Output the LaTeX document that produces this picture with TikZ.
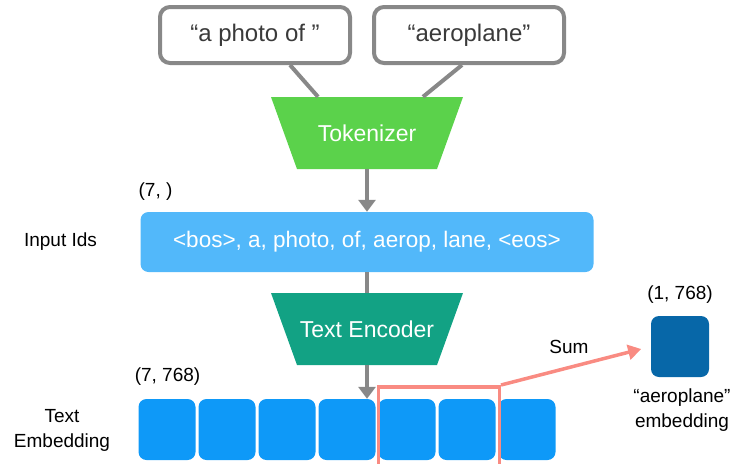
\documentclass[tikz,border=0pt]{standalone}
\usepackage{fontspec}
\setmainfont{Liberation Sans}
\usetikzlibrary{arrows.meta,calc}
\definecolor{linegray}{HTML}{888888}
\definecolor{tokgreen}{HTML}{5BD24B}
\definecolor{idsblue}{HTML}{52B8FA}
\definecolor{encteal}{HTML}{12A284}
\definecolor{embblue}{HTML}{0E99F8}
\definecolor{aggblue}{HTML}{0767A8}
\definecolor{selred}{HTML}{F98B82}
\definecolor{textgray}{HTML}{3A3A3A}
\tikzset{
  promptbox/.style={draw=linegray, line width=4pt, rounded corners=10pt, fill=white,
    minimum width=190pt, minimum height=56pt, inner sep=0pt,
    text=textgray, font=\fontsize{24}{28}\selectfont},
  funnel/.style={minimum width=192pt, minimum height=72pt, inner sep=0pt,
    text=white, font=\fontsize{23}{27}\selectfont,
    path picture={\fill[#1] (path picture bounding box.north west)
      -- (path picture bounding box.north east)
      -- ([xshift=-26pt]path picture bounding box.south east)
      -- ([xshift=26pt]path picture bounding box.south west) -- cycle;}},
  cell/.style={fill=embblue, rounded corners=8pt, minimum width=57pt,
    minimum height=61pt, inner sep=0pt},
  lbl/.style={font=\fontsize{19}{23}\selectfont, text=black, align=center, inner sep=0pt},
  flow/.style={draw=linegray, line width=4pt},
  flowarrow/.style={flow, -{Triangle[width=17pt,length=12pt]}},
}
\begin{document}
\begin{tikzpicture}[x=1pt,y=-1pt]
  \useasboundingbox (0,0) rectangle (730,463);
  % prompt pieces
  \node[promptbox] (p1) at (255,35) {“a photo of ”};
  \node[promptbox] (p2) at (469,35) {“aeroplane”};
  % tokenizer
  \node[funnel=tokgreen] (tok) at (367,133) {Tokenizer};
  \draw[flow] ($(p1.south)+(35,0)$) -- ($(tok.north)+(-49,0)$);
  \draw[flow] ($(p2.south)+(-7,0)$) -- ($(tok.north)+(56,0)$);
  % token ids
  \node[fill=idsblue, rounded corners=8pt, minimum width=453pt, minimum height=60pt,
    inner sep=0pt, text=white, font=\fontsize{22.5}{27}\selectfont] (ids) at (367,242)
    {<bos>, a, photo, of, aerop, lane, <eos>};
  \draw[flowarrow] (tok.south) -- (ids.north);
  \node[lbl] (idshape) at (155.5,192) {(7, )};
  \node[lbl] (idslbl) at (60.5,242) {Input Ids};
  % text encoder
  \node[funnel=encteal] (enc) at (367,329) {Text Encoder};
  \draw[flow] (ids.south) -- (enc.north);
  % embedding cells
  \foreach \i in {1,...,7} {
    \node[cell] (c\i) at ({107+60*\i},429.5) {};
  }
  \draw[flowarrow] (enc.south) -- (enc.south |- c4.north);
  \node[lbl] (embshape) at (167.5,377) {(7, 768)};
  \node[lbl] (emblbl) at (62,430) {Text\\[2pt]Embedding};
  % selected tokens and their sum
  \node[draw=selred, line width=3.5pt, minimum width=121pt, minimum height=82pt,
    inner sep=0pt, anchor=north west] (sel) at (376.5,385) {};
  \node[fill=aggblue, rounded corners=8pt, minimum width=58pt, minimum height=61pt,
    inner sep=0pt] (agg) at (680,346.5) {};
  \draw[draw=selred, line width=3.5pt, -{Triangle[width=15pt,length=13pt]},
    shorten >=10pt] (sel.north east) -- (agg.west);
  \node[lbl] (sum) at (569,347) {Sum};
  \node[lbl] (aggshape) at (680,295) {(1, 768)};
  \node[lbl] (agglbl) at (682,410) {“aeroplane”\\[2pt]embedding};
\end{tikzpicture}
\end{document}
